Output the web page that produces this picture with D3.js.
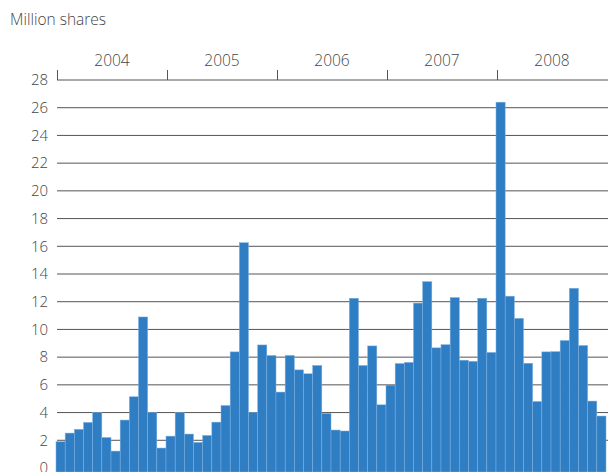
<!DOCTYPE html>
<html>
<head>
<meta charset="utf-8">
<script src="https://cdn.jsdelivr.net/npm/d3@7"></script>
<style>
  body { margin: 0; background: #fff; }
  svg { display: block; }
  text { font-family: "Open Sans", "Noto Sans", sans-serif; font-weight: 300; fill: #444; }
</style>
</head>
<body>
<svg id="chart" width="608" height="472"></svg>
<script>
const years = ["2004", "2005", "2006", "2007", "2008"];
const v2004 = [1.9, 2.52, 2.79, 3.29, 4.0, 2.2, 1.22, 3.46, 5.14, 10.9, 4.0, 1.44];
const v2005 = [2.3, 4.0, 2.45, 1.85, 2.35, 3.31, 4.51, 8.38, 16.26, 3.99, 8.88, 8.12];
const v2006 = [5.48, 8.12, 7.08, 6.8, 7.4, 3.94, 2.74, 2.67, 12.25, 7.4, 8.81, 4.56];
const v2007 = [5.98, 7.54, 7.62, 11.9, 13.45, 8.67, 8.9, 12.3, 7.78, 7.7, 12.25, 8.34];
const v2008 = [26.4, 12.4, 10.8, 7.56, 4.8, 8.38, 8.4, 9.2, 12.97, 8.84, 4.83, 3.75];
const yTicks = [0, 2, 4, 6, 8, 10, 12, 14, 16, 18, 20, 22, 24, 26, 28];
const unitLabel = "Million shares";

(function () {
const series = [v2004, v2005, v2006, v2007, v2008];
const data = [];
series.forEach((arr, yi) => arr.forEach((v, m) => data.push({ year: years[yi], month: m, idx: yi * 12 + m, value: v })));

const W = 608, H = 472;
const mLeft = 56, mRight = 606, mTop = 80, mBottom = 468;
const svg = d3.select("#chart");

const x = d3.scaleBand().domain(d3.range(data.length)).range([mLeft, mRight]).padding(0);
const y = d3.scaleLinear().domain([0, 28]).range([mBottom, mTop]);

// gridlines
svg.append("g").selectAll("line")
  .data(yTicks.filter(t => t > 0 && t < 28))
  .join("line")
  .attr("x1", mLeft + 1).attr("x2", W)
  .attr("y1", d => y(d)).attr("y2", d => y(d))
  .attr("stroke", "#555").attr("stroke-width", 1);

// bars
svg.append("g").selectAll("rect")
  .data(data)
  .join("rect")
  .attr("x", d => x(d.idx))
  .attr("width", x.bandwidth())
  .attr("y", d => y(d.value))
  .attr("height", d => H - y(d.value))
  .attr("fill", "#2f7ec4")
  .attr("stroke", "#7eb0e0")
  .attr("stroke-width", 0.5);

// y labels
const yAxis = d3.axisLeft(y).tickValues(yTicks).tickSize(0).tickPadding(0);
const ga = svg.append("g").attr("transform", `translate(48,0)`).call(yAxis);
ga.select(".domain").remove();
ga.selectAll("text").attr("font-size", "15px").attr("fill", "#444")
  .style("font-family", '"Open Sans", "Noto Sans", sans-serif').style("font-weight", 300);

// top year axis
svg.append("line")
  .attr("x1", mLeft + 1).attr("x2", W)
  .attr("y1", y(28)).attr("y2", y(28))
  .attr("stroke", "#555").attr("stroke-width", 1);
svg.append("g").selectAll("line")
  .data(years)
  .join("line")
  .attr("x1", (d, i) => Math.round(x(i * 12)) + 1.5)
  .attr("x2", (d, i) => Math.round(x(i * 12)) + 1.5)
  .attr("y1", y(28)).attr("y2", y(28) - 10)
  .attr("stroke", "#555").attr("stroke-width", 1);
svg.append("g").selectAll("text")
  .data(years)
  .join("text")
  .attr("x", (d, i) => (x(i * 12) + (i < years.length - 1 ? x(i * 12 + 12) : mRight)) / 2 + 1)
  .attr("y", 66)
  .attr("text-anchor", "middle")
  .attr("font-size", "15.5px")
  .text(d => d);

svg.append("text")
  .attr("x", 10).attr("y", 25)
  .attr("font-size", "15.5px")
  .text(unitLabel);
})();
</script>
</body>
</html>
